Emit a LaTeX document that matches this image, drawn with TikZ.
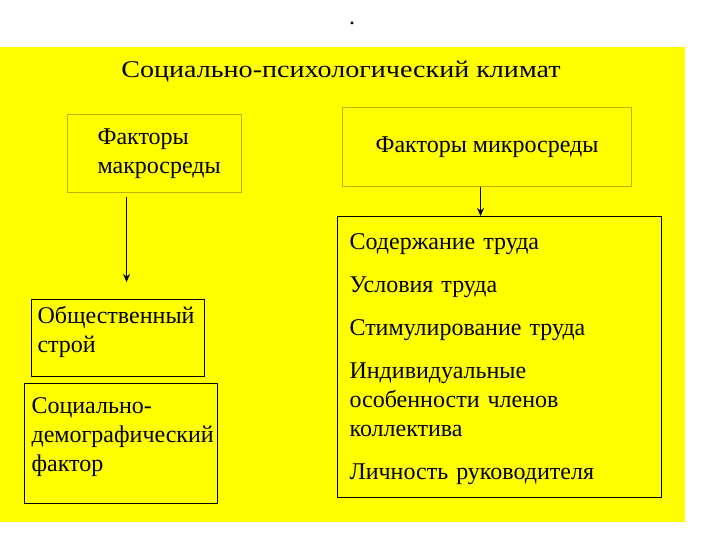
\documentclass[tikz,border=0pt]{standalone}
\usepackage{fontspec}
\setmainfont{Liberation Serif}
\newfontfamily\shiroky[FakeStretch=1.17]{Liberation Serif}
\usetikzlibrary{arrows.meta, positioning}

\definecolor{zhelty}{RGB}{255,255,0}
\definecolor{oliva}{RGB}{190,175,0}

\begin{document}
\begin{tikzpicture}[
    x=1pt, y=-1pt,
    line width=1.1pt,
    font=\fontsize{24pt}{29pt}\selectfont,
    blok/.style={draw, rectangle, anchor=north west, align=left, inner ysep=0pt},
    svetlyj/.style={blok, draw=oliva},
    strelka/.style={-{Stealth[length=8pt, width=7pt]}, line width=1.6pt}
]
    \useasboundingbox (0,0) rectangle (720,540);
    \fill[zhelty] (0,47) rectangle (685,522);

    \node (tochka) at (352,23) {.};
    \node[font=\shiroky\fontsize{24pt}{29pt}\selectfont] (klimat) at (341,72) {Социально-психологический климат};

    \node[svetlyj, inner xsep=30pt, text width=114pt, text height=30pt, text depth=48pt] (makro) at (67,114) {Факторы\\макросреды};
    \node[svetlyj, align=center, minimum width=289pt, minimum height=79pt] (mikro) at (342,107) {Факторы микросреды};

    \node[blok, inner xsep=6pt, text width=161pt, text height=24pt, text depth=53pt] (stroj) at (31,299) {Общественный\\строй};
    \node[blok, inner xsep=7pt, text width=179pt, text height=30pt, text depth=90pt] (demo) at (24,383) {Социально-\\демографический\\фактор};
    \node[blok, inner xsep=12pt, text width=300pt, text height=33pt, text depth=248pt] (trud) at (337,216) {Содержание труда\\[14pt]Условия труда\\[14pt]Стимулирование труда\\[14pt]Индивидуальные\\особенности членов\\коллектива\\[14pt]Личность руководителя};

    \draw[strelka] ([xshift=-28pt, yshift=-4pt]makro.south) -- ([xshift=8.5pt, yshift=17pt]stroj.north);
    \draw[strelka] ([xshift=-6.5pt]mikro.south) -- ([xshift=-19pt]trud.north);
\end{tikzpicture}
\end{document}
